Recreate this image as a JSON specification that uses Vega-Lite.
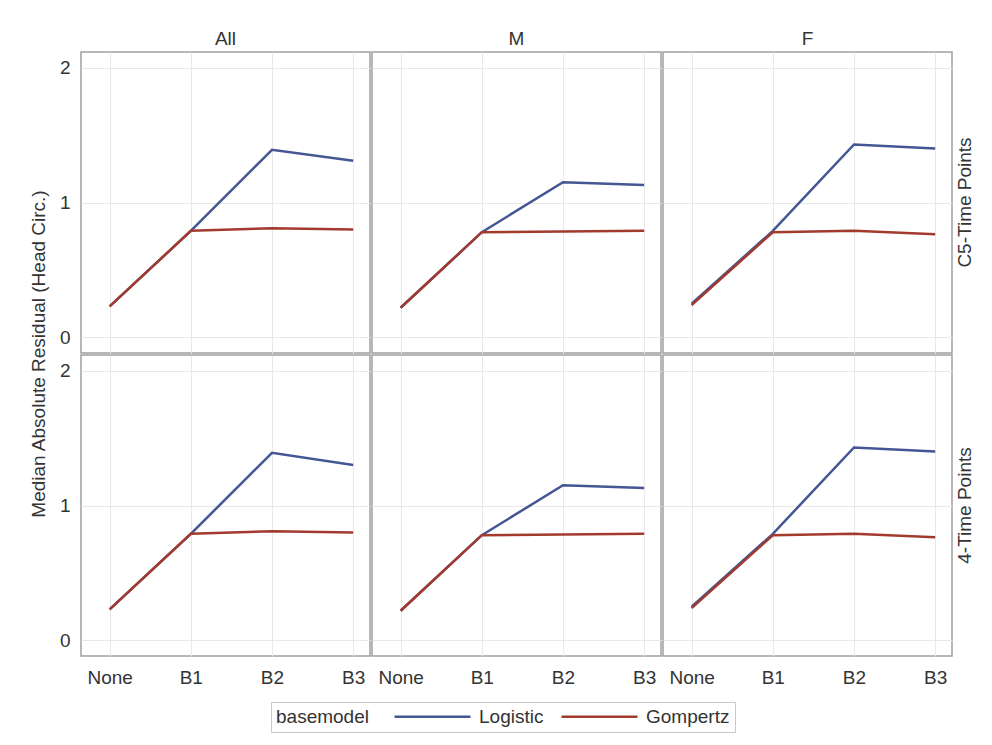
{
  "$schema": "https://vega.github.io/schema/vega-lite/v6.json",
  "padding": {"left": 29, "top": 30, "right": 16, "bottom": 6},
  "background": "white",
  "datasets": {
    "d": [
      {"design": "C5-Time Points", "sex": "All", "basemodel": "Logistic", "baseline": "None", "mar": 0.23},
      {"design": "C5-Time Points", "sex": "All", "basemodel": "Logistic", "baseline": "B1", "mar": 0.79},
      {"design": "C5-Time Points", "sex": "All", "basemodel": "Logistic", "baseline": "B2", "mar": 1.39},
      {"design": "C5-Time Points", "sex": "All", "basemodel": "Logistic", "baseline": "B3", "mar": 1.31},
      {"design": "C5-Time Points", "sex": "M", "basemodel": "Logistic", "baseline": "None", "mar": 0.22},
      {"design": "C5-Time Points", "sex": "M", "basemodel": "Logistic", "baseline": "B1", "mar": 0.78},
      {"design": "C5-Time Points", "sex": "M", "basemodel": "Logistic", "baseline": "B2", "mar": 1.15},
      {"design": "C5-Time Points", "sex": "M", "basemodel": "Logistic", "baseline": "B3", "mar": 1.13},
      {"design": "C5-Time Points", "sex": "F", "basemodel": "Logistic", "baseline": "None", "mar": 0.25},
      {"design": "C5-Time Points", "sex": "F", "basemodel": "Logistic", "baseline": "B1", "mar": 0.79},
      {"design": "C5-Time Points", "sex": "F", "basemodel": "Logistic", "baseline": "B2", "mar": 1.43},
      {"design": "C5-Time Points", "sex": "F", "basemodel": "Logistic", "baseline": "B3", "mar": 1.40},
      {"design": "4-Time Points", "sex": "All", "basemodel": "Logistic", "baseline": "None", "mar": 0.23},
      {"design": "4-Time Points", "sex": "All", "basemodel": "Logistic", "baseline": "B1", "mar": 0.79},
      {"design": "4-Time Points", "sex": "All", "basemodel": "Logistic", "baseline": "B2", "mar": 1.39},
      {"design": "4-Time Points", "sex": "All", "basemodel": "Logistic", "baseline": "B3", "mar": 1.30},
      {"design": "4-Time Points", "sex": "M", "basemodel": "Logistic", "baseline": "None", "mar": 0.22},
      {"design": "4-Time Points", "sex": "M", "basemodel": "Logistic", "baseline": "B1", "mar": 0.78},
      {"design": "4-Time Points", "sex": "M", "basemodel": "Logistic", "baseline": "B2", "mar": 1.15},
      {"design": "4-Time Points", "sex": "M", "basemodel": "Logistic", "baseline": "B3", "mar": 1.13},
      {"design": "4-Time Points", "sex": "F", "basemodel": "Logistic", "baseline": "None", "mar": 0.25},
      {"design": "4-Time Points", "sex": "F", "basemodel": "Logistic", "baseline": "B1", "mar": 0.79},
      {"design": "4-Time Points", "sex": "F", "basemodel": "Logistic", "baseline": "B2", "mar": 1.43},
      {"design": "4-Time Points", "sex": "F", "basemodel": "Logistic", "baseline": "B3", "mar": 1.40},
      {"design": "C5-Time Points", "sex": "All", "basemodel": "Gompertz", "baseline": "None", "mar": 0.23},
      {"design": "C5-Time Points", "sex": "All", "basemodel": "Gompertz", "baseline": "B1", "mar": 0.79},
      {"design": "C5-Time Points", "sex": "All", "basemodel": "Gompertz", "baseline": "B2", "mar": 0.81},
      {"design": "C5-Time Points", "sex": "All", "basemodel": "Gompertz", "baseline": "B3", "mar": 0.80},
      {"design": "C5-Time Points", "sex": "M", "basemodel": "Gompertz", "baseline": "None", "mar": 0.22},
      {"design": "C5-Time Points", "sex": "M", "basemodel": "Gompertz", "baseline": "B1", "mar": 0.78},
      {"design": "C5-Time Points", "sex": "M", "basemodel": "Gompertz", "baseline": "B2", "mar": 0.785},
      {"design": "C5-Time Points", "sex": "M", "basemodel": "Gompertz", "baseline": "B3", "mar": 0.79},
      {"design": "C5-Time Points", "sex": "F", "basemodel": "Gompertz", "baseline": "None", "mar": 0.24},
      {"design": "C5-Time Points", "sex": "F", "basemodel": "Gompertz", "baseline": "B1", "mar": 0.78},
      {"design": "C5-Time Points", "sex": "F", "basemodel": "Gompertz", "baseline": "B2", "mar": 0.79},
      {"design": "C5-Time Points", "sex": "F", "basemodel": "Gompertz", "baseline": "B3", "mar": 0.765},
      {"design": "4-Time Points", "sex": "All", "basemodel": "Gompertz", "baseline": "None", "mar": 0.23},
      {"design": "4-Time Points", "sex": "All", "basemodel": "Gompertz", "baseline": "B1", "mar": 0.79},
      {"design": "4-Time Points", "sex": "All", "basemodel": "Gompertz", "baseline": "B2", "mar": 0.81},
      {"design": "4-Time Points", "sex": "All", "basemodel": "Gompertz", "baseline": "B3", "mar": 0.80},
      {"design": "4-Time Points", "sex": "M", "basemodel": "Gompertz", "baseline": "None", "mar": 0.22},
      {"design": "4-Time Points", "sex": "M", "basemodel": "Gompertz", "baseline": "B1", "mar": 0.78},
      {"design": "4-Time Points", "sex": "M", "basemodel": "Gompertz", "baseline": "B2", "mar": 0.785},
      {"design": "4-Time Points", "sex": "M", "basemodel": "Gompertz", "baseline": "B3", "mar": 0.79},
      {"design": "4-Time Points", "sex": "F", "basemodel": "Gompertz", "baseline": "None", "mar": 0.24},
      {"design": "4-Time Points", "sex": "F", "basemodel": "Gompertz", "baseline": "B1", "mar": 0.78},
      {"design": "4-Time Points", "sex": "F", "basemodel": "Gompertz", "baseline": "B2", "mar": 0.79},
      {"design": "4-Time Points", "sex": "F", "basemodel": "Gompertz", "baseline": "B3", "mar": 0.765}
    ]
  },
  "data": {"name": "d"},
  "spacing": 0,
  "facet": {
    "row": {
      "field": "design",
      "type": "nominal",
      "sort": ["C5-Time Points", "4-Time Points"],
      "title": "Median Absolute Residual (Head Circ.)",
      "header": {
        "labelOrient": "right", "labelAngle": -90, "labelFontSize": 19, "labelColor": "#333333", "labelFont": "Liberation Sans", "labelPadding": -7,
        "titleOrient": "left", "titleFontSize": 19, "titleFontWeight": "normal", "titleColor": "#333333", "titleFont": "Liberation Sans", "titlePadding": 0
      }
    },
    "column": {
      "field": "sex",
      "type": "nominal",
      "sort": ["All", "M", "F"],
      "title": null,
      "header": {"labelOrient": "top", "labelFontSize": 19, "labelColor": "#333333", "labelFont": "Liberation Sans", "labelPadding": 2}
    }
  },
  "spec": {
    "width": 289,
    "height": 301,
    "mark": {"type": "line", "strokeWidth": 2.5},
    "encoding": {
      "x": {
        "field": "baseline",
        "type": "ordinal",
        "sort": ["None", "B1", "B2", "B3"],
        "scale": {"type": "point", "padding": 0.28, "align": 0.63},
        "axis": {"title": null, "labelAngle": 0, "ticks": false, "domain": false, "labelPadding": 11, "grid": true}
      },
      "y": {
        "field": "mar",
        "type": "quantitative",
        "scale": {"domain": [-0.115, 2.115], "nice": false, "zero": false},
        "axis": {"title": null, "values": [0, 1, 2], "ticks": false, "domain": false, "labelPadding": 10}
      },
      "color": {
        "field": "basemodel",
        "type": "nominal",
        "sort": ["Logistic", "Gompertz"],
        "scale": {"domain": ["Logistic", "Gompertz"], "range": ["#445694", "#A23A2E"]},
        "legend": {
          "title": "basemodel",
          "orient": "bottom",
          "direction": "horizontal",
          "titleOrient": "left",
          "titleBaseline": "middle",
          "strokeColor": "#c8c8c8",
          "padding": 5,
          "symbolType": "M-6,0H6",
          "symbolSize": 160,
          "symbolStrokeWidth": 2.5,
          "columnPadding": 12,
          "labelOffset": 37,
          "titlePadding": 54,
          "offset": 15
        }
      }
    }
  },
  "config": {
    "font": "Liberation Sans",
    "view": {"stroke": "#a0a0a0", "strokeWidth": 1.5},
    "axis": {"labelFontSize": 19, "titleFontSize": 19, "labelColor": "#333333", "titleColor": "#333333", "titleFontWeight": "normal", "gridColor": "#e8e8e8", "gridWidth": 1, "labelFont": "Liberation Sans", "titleFont": "Liberation Sans"},
    "legend": {"labelFontSize": 19, "titleFontSize": 19, "titleFontWeight": "normal", "labelColor": "#333333", "titleColor": "#333333", "titleFont": "Liberation Sans", "labelFont": "Liberation Sans", "layout": {"bottom": {"anchor": "middle"}}}
  }
}
